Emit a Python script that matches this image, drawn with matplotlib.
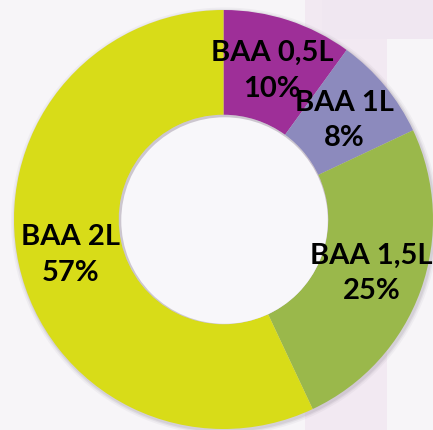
import matplotlib
matplotlib.use("Agg")
import matplotlib.pyplot as plt
from matplotlib.patches import Rectangle, Circle

categories = ["BAA 0,5L", "BAA 1L", "BAA 1,5L", "BAA 2L"]
values = [10, 8, 25, 57]
colors = ["#9E2F98", "#8C8ABD", "#9AB84B", "#D8DC18"]

fig = plt.figure(figsize=(4.33, 4.31), dpi=100)
fig.patch.set_facecolor("#F7F5F8")

# faint background decoration
bg = fig.add_axes([0, 0, 1, 1], zorder=0)
bg.set_xlim(0, 433); bg.set_ylim(431, 0); bg.axis("off")
bg.add_patch(Rectangle((305, 0), 82, 431, facecolor="#F2E9F2", edgecolor="none"))
bg.add_patch(Rectangle((322, 0), 111, 40, facecolor="#F0E7F1", edgecolor="none"))

ax = fig.add_axes([0, 0, 1, 1], zorder=1)
ax.patch.set_alpha(0)

labels_iter = iter(categories)

def fmt(p):
    name = next(labels_iter)
    return f"{name}\n{round(p):d}%"

# soft shadow
for k, a in [(1.02, 0.08), (1.012, 0.12), (1.006, 0.16)]:
    ax.add_patch(Circle((0.006, -0.008), k, facecolor="#8F8595", edgecolor="none", alpha=a, zorder=0.2))

wedges, _, autotexts = ax.pie(values, colors=colors, startangle=90, counterclock=False,
                              radius=1.0, wedgeprops=dict(width=0.5, edgecolor="none"),
                              autopct=fmt, pctdistance=0.75)
for t in autotexts:
    t.set_fontfamily("Lato")
    t.set_fontweight("bold")
    t.set_fontsize(21)
    t.set_color("black")
    t.set_ha("center")
    t.set_va("center")
    t.set_linespacing(1.45)

# hole with soft inner shadow
ax.add_patch(Circle((0, 0), 0.5, facecolor="#B5ACB9", edgecolor="none", zorder=2.5, alpha=0.25))
ax.add_patch(Circle((0.005, -0.005), 0.493, facecolor="#F8F7FA", edgecolor="none", zorder=2.6))

cx, cy, r = 223.5, 220.5, 209.5
ax.set_xlim(-cx / r, (433 - cx) / r)
ax.set_ylim(-(431 - cy) / r, cy / r)
ax.set_aspect("auto")
ax.axis("off")

fig.savefig("out.png", dpi=100, facecolor=fig.get_facecolor())
